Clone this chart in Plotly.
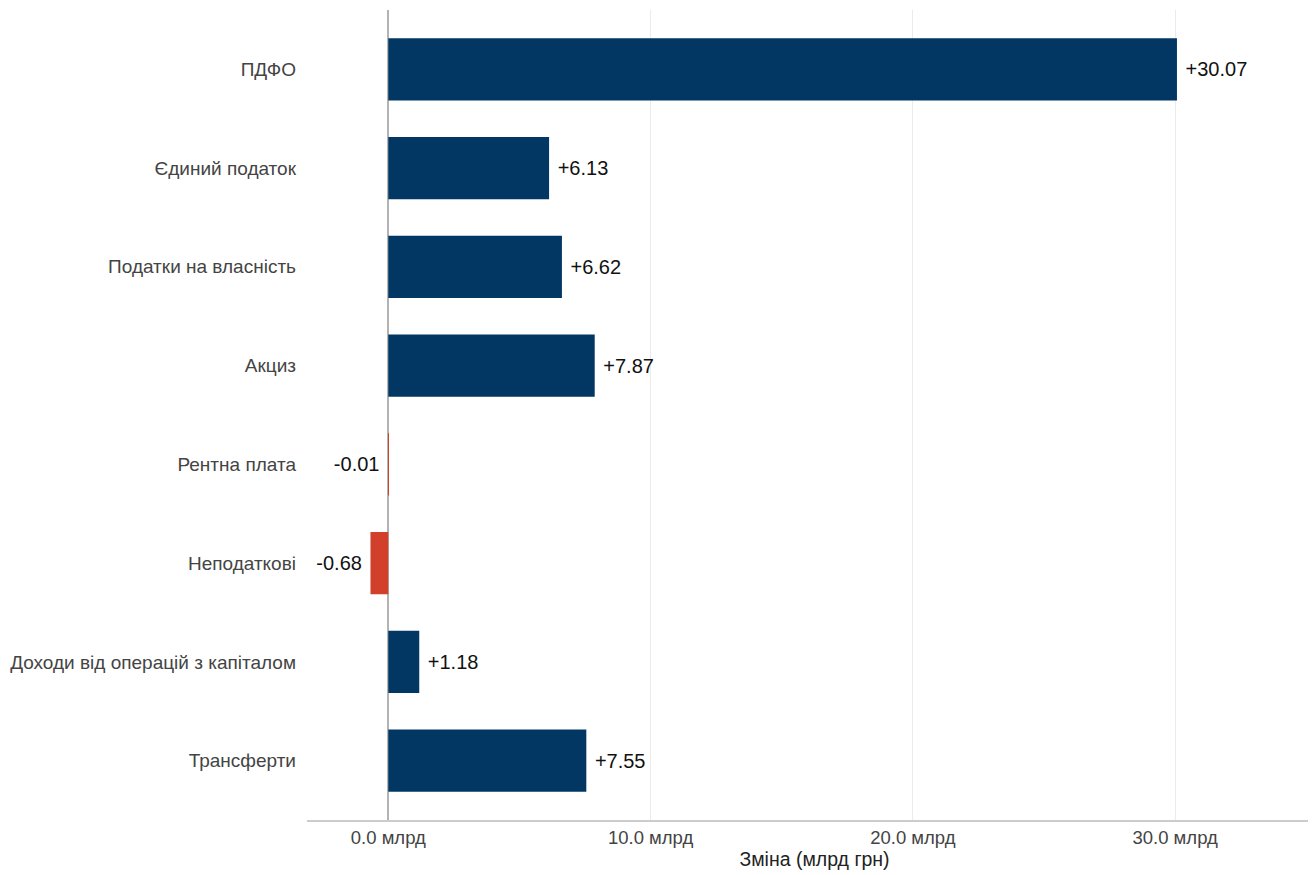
import plotly.graph_objects as go

categories = ["ПДФО", "Єдиний податок", "Податки на власність", "Акциз",
              "Рентна плата", "Неподаткові", "Доходи від операцій з капіталом", "Трансферти"]
values = [30.07, 6.13, 6.62, 7.87, -0.01, -0.68, 1.18, 7.55]
tick_vals = [0, 10, 20, 30]
tick_text = ["0.0 млрд", "10.0 млрд", "20.0 млрд", "30.0 млрд"]

pos_color = "#023763"
neg_color = "#d2402c"
colors = [pos_color if v >= 0 else neg_color for v in values]
labels = [("\u00a0" + f"{v:+.2f}") if v >= 0 else (f"{v:+.2f}" + "\u00a0") for v in values]

fig = go.Figure(go.Bar(
    x=values, y=categories, orientation="h",
    marker=dict(color=colors, line=dict(width=0)),
    width=0.63,
    text=labels, textposition="outside",
    textfont=dict(family="Liberation Sans, Arial", size=20, color="#111"),
    cliponaxis=False,
))

fig.update_layout(
    width=1316, height=875,
    margin=dict(l=299, r=2, t=2, b=63),
    plot_bgcolor="white", paper_bgcolor="white",
    font=dict(family="Liberation Sans, Arial", color="#333"),
    showlegend=False,
    xaxis=dict(
        range=[-3.1, 35.6],
        tickvals=tick_vals, ticktext=tick_text,
        tickfont=dict(size=18.5, color="#444"),
        showgrid=True, gridcolor="#ebebeb", gridwidth=1,
        zeroline=True, zerolinecolor="#b3b3b3", zerolinewidth=2,
        showline=True, linecolor="#cccccc", linewidth=1.5,
        ticks="", ticklen=0,
        title=dict(text="Зміна (млрд грн)", font=dict(size=19.5, color="#222"), standoff=2),
    ),
    yaxis=dict(
        range=[7.6, -0.6],
        tickfont=dict(size=19, color="#444"),
        showgrid=False, zeroline=False, showline=False,
        ticks="", ticklabelstandoff=10,
    ),
)

fig.write_html("out.html")
